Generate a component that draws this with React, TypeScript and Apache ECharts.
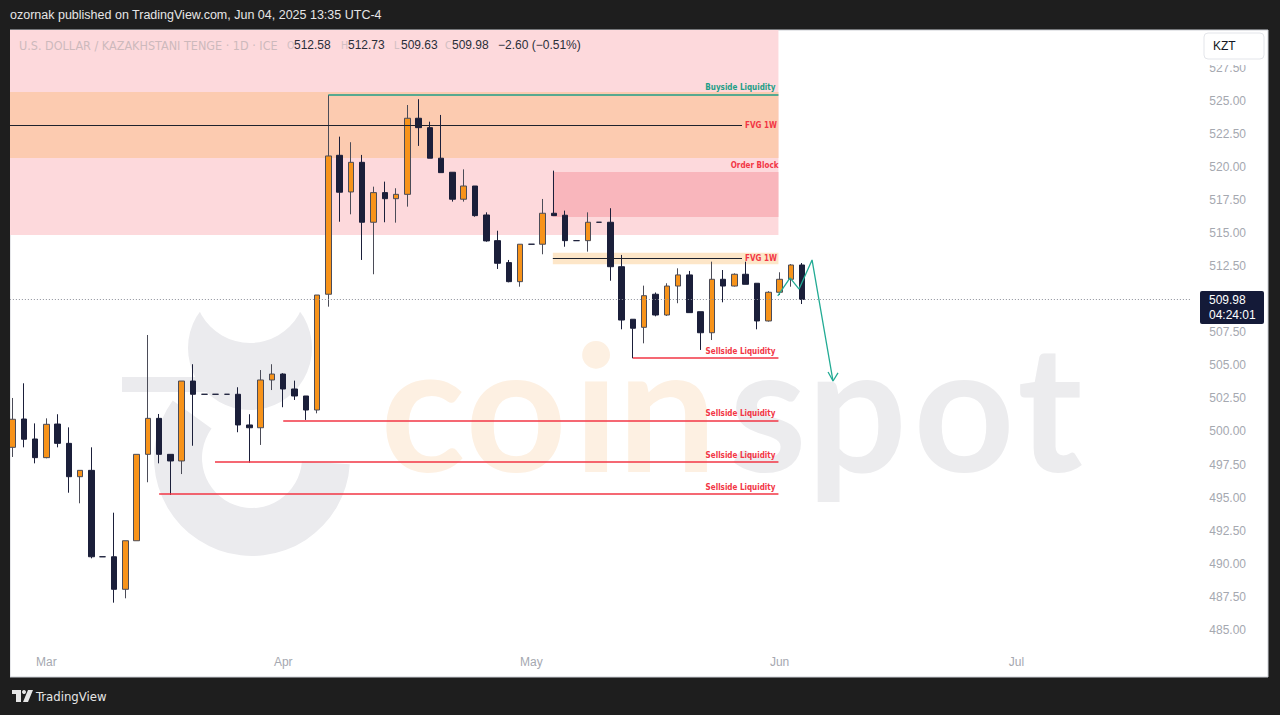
import React, { useEffect, useRef } from "react";
import * as echarts from "echarts";

// ---- Data ---------------------------------------------------------------
// Daily USD/KZT sessions, first bar Feb 26 2025, weekdays only (incl. projected space)
const FIRST_SESSION = "2025-02-26";
const SESSION_COUNT = 105;
const MONTH_NAMES = ["Jan", "Feb", "Mar", "Apr", "May", "Jun", "Jul", "Aug", "Sep", "Oct", "Nov", "Dec"];

// [open, high, low, close] per session
const candles: number[][] = [
  [498.8, 502.53, 498.07, 500.92],
  [500.94, 503.64, 498.8, 499.41],
  [499.43, 500.61, 497.59, 498.02],
  [498.02, 500.99, 497.97, 500.54],
  [500.56, 501.3, 498.8, 499.1],
  [499.1, 500.31, 495.37, 496.58],
  [496.58, 497.06, 494.57, 497.06],
  [497.06, 498.8, 490.41, 490.53],
  [490.53, 490.53, 490.53, 490.53],
  [490.53, 493.86, 487.06, 488.07],
  [488.07, 491.74, 487.39, 491.74],
  [491.74, 498.27, 491.74, 498.27],
  [498.27, 507.29, 496.16, 500.99],
  [500.99, 501.32, 497.59, 498.27],
  [498.27, 498.27, 495.2, 497.77],
  [497.77, 503.81, 496.78, 503.81],
  [503.81, 505.08, 498.92, 502.81],
  [502.81, 502.81, 502.81, 502.81],
  [502.81, 502.81, 502.81, 502.81],
  [502.81, 502.81, 502.81, 502.81],
  [502.81, 503.34, 499.94, 500.49],
  [500.49, 501.3, 497.64, 500.28],
  [500.28, 504.64, 498.98, 503.89],
  [503.89, 505.08, 503.13, 504.34],
  [504.34, 504.4, 501.83, 503.21],
  [503.21, 503.84, 502.38, 502.68],
  [502.68, 502.68, 500.87, 501.62],
  [501.62, 510.31, 501.37, 510.31],
  [510.37, 525.43, 509.43, 520.82],
  [520.87, 522.28, 515.85, 518.08],
  [518.1, 521.86, 516.41, 520.34],
  [520.34, 520.9, 512.96, 515.81],
  [515.81, 518.5, 511.88, 518.05],
  [518.05, 518.88, 515.81, 517.59],
  [517.59, 518.38, 515.78, 517.92],
  [517.92, 524.67, 516.99, 523.67],
  [523.67, 525.11, 521.58, 522.96],
  [522.96, 523.41, 520.65, 520.65],
  [520.65, 523.92, 519.56, 519.56],
  [519.59, 519.59, 517.37, 517.55],
  [517.55, 519.81, 517.37, 518.55],
  [518.55, 518.55, 516.23, 516.31],
  [516.36, 516.56, 514.34, 514.4],
  [514.42, 515.17, 512.28, 512.71],
  [512.76, 512.96, 511.27, 511.32],
  [511.32, 514.15, 510.94, 514.15],
  [514.15, 514.15, 514.15, 514.15],
  [514.15, 517.57, 513.39, 516.49],
  [516.49, 519.71, 516.31, 516.31],
  [516.34, 516.69, 513.96, 514.42],
  [514.42, 514.42, 514.42, 514.42],
  [514.42, 516.56, 513.59, 515.81],
  [515.81, 515.81, 515.81, 515.81],
  [515.81, 516.87, 511.39, 512.45],
  [512.45, 513.34, 507.72, 508.42],
  [508.48, 508.48, 505.53, 507.8],
  [507.87, 511.02, 506.66, 510.26],
  [510.37, 510.5, 508.7, 508.8],
  [508.8, 511.2, 508.73, 510.99],
  [510.99, 512.33, 509.69, 511.83],
  [511.83, 512.13, 508.98, 508.98],
  [509.05, 509.05, 506.16, 507.46],
  [507.46, 512.83, 506.91, 511.5],
  [511.5, 512.2, 509.76, 510.99],
  [510.99, 511.95, 510.95, 511.88],
  [511.88, 512.83, 511.12, 511.12],
  [511.2, 511.2, 507.72, 508.35],
  [508.35, 510.6, 508.3, 510.52],
  [510.52, 512.03, 510.31, 511.5],
  [511.5, 512.65, 510.94, 512.58],
  [512.58, 512.73, 509.63, 509.98],
];

const LAST_PRICE = 509.98;
const COUNTDOWN = "04:24:01";

// Price scale
const PRICE_MIN = 482.5;
const PRICE_MAX = 530.34;
const PRICE_STEP = 2.5;

// Zones: [fromBar, toBar, top, bottom]
const premiumZone = [-0.5, 67.9, 530.34, 514.85];
const weeklyFvgZone = [-0.5, 67.9, 525.66, 520.67];
const orderBlockZone = [47.9, 67.9, 519.61, 516.21];
const lowerFvgZone = [47.9, 67.9, 513.51, 512.63];

// Levels: [fromBar, toBar, price]
const weeklyFvgMid = [-0.5, 64.67, 523.16];
const lowerFvgMid = [47.9, 64.67, 513.09];
const buysideLevel = [28, 67.9, 525.43];
const sellsideLevels = [
  [55, 67.9, 505.55],
  [24, 67.9, 500.79],
  [17.95, 67.9, 497.69],
  [13, 67.9, 495.27],
];

// Projected path [bar, price]
const projectionPath = [
  [67.84, 510.24],
  [68.93, 511.6],
  [69.73, 510.76],
  [70.88, 512.96],
  [72.74, 503.81],
];
const projectionHead = [
  [72.3, 504.49],
  [72.74, 503.81],
  [73.18, 504.42],
];

// Legend values
const legendName = "U.S. DOLLAR / KAZAKHSTANI TENGE · 1D · ICE";
const legendOhlc = [
  ["O", "512.58"],
  ["H", "512.73"],
  ["L", "509.63"],
  ["C", "509.98"],
];
const legendChange = "−2.60 (−0.51%)";

// ---- Styling ------------------------------------------------------------
const UI_FONT = "'Liberation Sans', Arial, sans-serif";
const NARROW_FONT = "'Liberation Sans Narrow', 'DejaVu Sans Condensed', 'Liberation Sans', sans-serif";
const RED = "#f23645";
const GREEN = "#1f9e86";
const AXIS_TEXT = "#a5a8b0";
const MARK_GRAY = "#ebebee";

function buildSessions(start: string, count: number): string[] {
  const out: string[] = [];
  const d = new Date(start + "T00:00:00Z");
  while (out.length < count) {
    const wd = d.getUTCDay();
    if (wd !== 0 && wd !== 6) out.push(d.toISOString().slice(0, 10));
    d.setUTCDate(d.getUTCDate() + 1);
  }
  return out;
}

export default function App() {
  const ref = useRef<HTMLDivElement>(null);

  useEffect(() => {
    if (!ref.current) return;
    const chart = echarts.init(ref.current, undefined, { renderer: "svg" });

    const sessions = buildSessions(FIRST_SESSION, SESSION_COUNT);
    const monthStart = sessions.map((s, i) => i > 0 && s.slice(5, 7) !== sessions[i - 1].slice(5, 7));

    const area = (z: number[], color: string, extra: any = {}) => [
      { xAxis: z[0], yAxis: z[2], itemStyle: { color }, ...extra },
      { xAxis: z[1], yAxis: z[3] },
    ];
    const levelLabel = (text: string, color: string, position: string, distance = 3) => ({
      show: true,
      formatter: text,
      position,
      distance,
      color,
      fontSize: 8,
      fontWeight: "bold",
      fontFamily: NARROW_FONT,
    });
    const level = (l: number[], color: string, width: number, label: any) => [
      { coord: [l[0], l[2]], lineStyle: { color, width, type: "solid" }, label },
      { coord: [l[1], l[2]] },
    ];

    const letters = [
      { ch: "c", x: 423, fill: "#fdf0e2" },
      { ch: "o", x: 516, fill: "#fdf0e2" },
      { ch: "i", x: 596, fill: "#fdf0e2" },
      { ch: "n", x: 667, fill: "#fdf0e2" },
      { ch: "s", x: 768, fill: "#ececee" },
      { ch: "p", x: 857, fill: "#ececee" },
      { ch: "o", x: 964, fill: "#ececee" },
      { ch: "t", x: 1050, fill: "#ececee" },
    ];

    const legendX = [288, 342, 395, 446];

    const option: any = {
      animation: false,
      backgroundColor: "#1e1e1e",
      grid: { left: 6.86, right: 88.7, top: 30, bottom: 52, containLabel: false },
      xAxis: [
        {
          type: "category",
          data: sessions,
          boundaryGap: true,
          axisLine: { show: false },
          axisTick: { show: false },
          splitLine: { show: false },
          axisLabel: {
            interval: (i: number) => monthStart[i],
            formatter: (v: string) => MONTH_NAMES[Number(v.slice(5, 7)) - 1],
            color: AXIS_TEXT,
            fontSize: 12,
            fontFamily: UI_FONT,
            margin: -7,
          },
        },
        { type: "value", min: -0.5, max: SESSION_COUNT - 0.5, show: false },
      ],
      yAxis: {
        type: "value",
        position: "right",
        min: PRICE_MIN,
        max: PRICE_MAX,
        interval: PRICE_STEP,
        scale: true,
        axisLine: { show: false },
        axisTick: { show: false },
        splitLine: { show: false },
        axisLabel: {
          margin: 18,
          color: AXIS_TEXT,
          fontSize: 12,
          fontFamily: UI_FONT,
          formatter: (v: number) => (v > 528.5 || v < 484 ? "" : v.toFixed(2)),
        },
      },
      series: [
        {
          name: "zones",
          type: "line",
          xAxisIndex: 1,
          data: [],
          z: 1,
          silent: true,
          markArea: {
            silent: true,
            label: { show: false },
            data: [
              area(premiumZone, "#fdd9dc"),
              area(weeklyFvgZone, "#fccbb0"),
              area(orderBlockZone, "#f9b6bc", {
                name: "Order Block",
                label: {
                  show: true,
                  position: ["100%", -2],
                  align: "right",
                  verticalAlign: "bottom",
                  color: RED,
                  fontSize: 8,
                  fontWeight: "bold",
                  fontFamily: NARROW_FONT,
                },
              }),
              area(lowerFvgZone, "#fde6c8"),
            ],
          },
        },
        {
          name: "levels",
          type: "line",
          xAxisIndex: 1,
          data: [],
          z: 2,
          silent: true,
          markLine: {
            silent: true,
            symbol: ["none", "none"],
            data: [
              level(weeklyFvgMid, "#1e222d", 1, levelLabel("FVG 1W", RED, "end")),
              level(lowerFvgMid, "#1e222d", 1, levelLabel("FVG 1W", RED, "end")),
              level(buysideLevel, GREEN, 1.5, levelLabel("Buyside Liquidity", GREEN, "insideEndTop")),
              ...sellsideLevels.map((l) => level(l, RED, 1.5, levelLabel("Sellside Liquidity", RED, "insideEndTop"))),
              [
                {
                  coord: [-0.5, LAST_PRICE],
                  lineStyle: { color: "#8d909a", width: 1, type: [1, 2] },
                  label: { show: false },
                },
                { coord: [SESSION_COUNT - 0.5, LAST_PRICE] },
              ],
            ],
          },
        },
        {
          name: "USDKZT",
          type: "candlestick",
          xAxisIndex: 0,
          z: 3,
          barWidth: 6,
          data: candles.map(([o, h, l, c]) => [o, c, l, h]),
          itemStyle: {
            color: "#f7931a",
            color0: "#1b1f3a",
            borderColor: "#4b4c58",
            borderColor0: "#1b1f3a",
            borderColorDoji: "#1b1f3a",
            borderWidth: 1,
          },
        },
        {
          name: "projection",
          type: "line",
          xAxisIndex: 1,
          z: 4,
          symbol: "none",
          silent: true,
          data: projectionPath,
          lineStyle: { color: "#22ab94", width: 1.3 },
        },
        {
          name: "projectionHead",
          type: "line",
          xAxisIndex: 1,
          z: 4,
          symbol: "none",
          silent: true,
          data: projectionHead,
          lineStyle: { color: "#22ab94", width: 1.3 },
        },
      ],
      graphic: [
        // chart panel
        {
          type: "rect",
          z: -100,
          shape: { x: 10, y: 30, width: 1258, height: 647 },
          style: { fill: "#ffffff", stroke: "#cdd0d6", lineWidth: 1 },
        },
        // watermark emblem: upper cup
        {
          type: "circle",
          z: -50,
          shape: { cx: 250, cy: 348, r: 62 },
          style: { fill: MARK_GRAY },
        },
        {
          type: "circle",
          z: -49,
          shape: { cx: 250, cy: 287, r: 56 },
          style: { fill: "#ffffff" },
        },
        {
          type: "rect",
          z: -48,
          shape: { x: 122, y: 377, width: 100, height: 15 },
          style: { fill: MARK_GRAY },
        },
        // watermark emblem: lower bowl
        {
          type: "sector",
          z: -50,
          shape: { cx: 252, cy: 458, r: 98, r0: 50, startAngle: Math.PI * 0.02, endAngle: Math.PI * 1.2 },
          style: { fill: MARK_GRAY },
        },
        // watermark wordmark
        ...letters.map((l) => ({
          type: "text",
          z: -50,
          x: l.x,
          y: 403,
          style: {
            text: l.ch,
            fill: l.fill,
            fontSize: 176,
            fontWeight: "bold",
            fontFamily: "Lato, 'Open Sans', sans-serif",
            align: "center",
            verticalAlign: "middle",
          },
        })),
        // left frame edge
        {
          type: "rect",
          z: 100,
          shape: { x: 0, y: 30, width: 10, height: 647 },
          style: { fill: "#1e1e1e" },
        },
        // publication line
        {
          type: "text",
          z: 100,
          x: 10,
          y: 15,
          style: {
            text: "ozornak published on TradingView.com, Jun 04, 2025 13:35 UTC-4",
            fill: "#e6e6e6",
            fontSize: 12.5,
            fontFamily: UI_FONT,
            verticalAlign: "middle",
          },
        },
        // legend line
        {
          type: "text",
          z: 100,
          x: 19,
          y: 45,
          style: {
            text: legendName,
            fill: "#cdb9bc",
            fontSize: 12.5,
            fontFamily: NARROW_FONT,
            verticalAlign: "middle",
          },
        },
        ...legendOhlc.flatMap(([k, v], i) => [
          {
            type: "text",
            z: 100,
            x: legendX[i] - 1,
            y: 45,
            style: { text: k, fill: "#d2bfc2", fontSize: 10.5, fontFamily: NARROW_FONT, verticalAlign: "middle" },
          },
          {
            type: "text",
            z: 100,
            x: legendX[i] + 6,
            y: 45,
            style: { text: v, fill: "#2a2e39", fontSize: 12, fontFamily: UI_FONT, verticalAlign: "middle" },
          },
        ]),
        {
          type: "text",
          z: 100,
          x: 498,
          y: 45,
          style: { text: legendChange, fill: "#2a2e39", fontSize: 12, fontFamily: UI_FONT, verticalAlign: "middle" },
        },
        // currency badge
        {
          type: "rect",
          z: 100,
          shape: { x: 1200, y: 31, width: 66, height: 34 },
          style: { fill: "#ffffff" },
        },
        {
          type: "rect",
          z: 101,
          shape: { x: 1204, y: 33, width: 60, height: 26, r: 4 },
          style: { fill: "#ffffff", stroke: "#e3e5ea", lineWidth: 1 },
        },
        {
          type: "text",
          z: 102,
          x: 1213,
          y: 46,
          style: { text: "KZT", fill: "#131722", fontSize: 12, fontFamily: UI_FONT, verticalAlign: "middle" },
        },
        // last price badge
        {
          type: "rect",
          z: 100,
          shape: { x: 1200, y: 291, width: 64, height: 33, r: 2 },
          style: { fill: "#141a38" },
        },
        {
          type: "text",
          z: 101,
          x: 1209,
          y: 300,
          style: { text: LAST_PRICE.toFixed(2), fill: "#ffffff", fontSize: 12, fontFamily: UI_FONT, verticalAlign: "middle" },
        },
        {
          type: "text",
          z: 101,
          x: 1209,
          y: 315,
          style: { text: COUNTDOWN, fill: "#ffffff", fontSize: 12, fontFamily: UI_FONT, verticalAlign: "middle" },
        },
        // footer brand
        {
          type: "rect",
          z: 100,
          shape: { x: 12, y: 690, width: 9, height: 4 },
          style: { fill: "#e6e6e6" },
        },
        {
          type: "rect",
          z: 100,
          shape: { x: 16, y: 690, width: 5, height: 12 },
          style: { fill: "#e6e6e6" },
        },
        {
          type: "circle",
          z: 100,
          shape: { cx: 24, cy: 692, r: 2 },
          style: { fill: "#e6e6e6" },
        },
        {
          type: "polygon",
          z: 100,
          shape: { points: [[28, 690], [33, 690], [28, 702], [23, 702]] },
          style: { fill: "#e6e6e6" },
        },
        {
          type: "text",
          z: 100,
          x: 36,
          y: 696,
          style: { text: "TradingView", fill: "#e6e6e6", fontSize: 13, fontFamily: NARROW_FONT, verticalAlign: "middle" },
        },
      ],
    };

    chart.setOption(option);
    return () => chart.dispose();
  }, []);

  return <div ref={ref} style={{ position: "fixed", left: 0, top: 0, width: 1280, height: 715 }} />;
}
